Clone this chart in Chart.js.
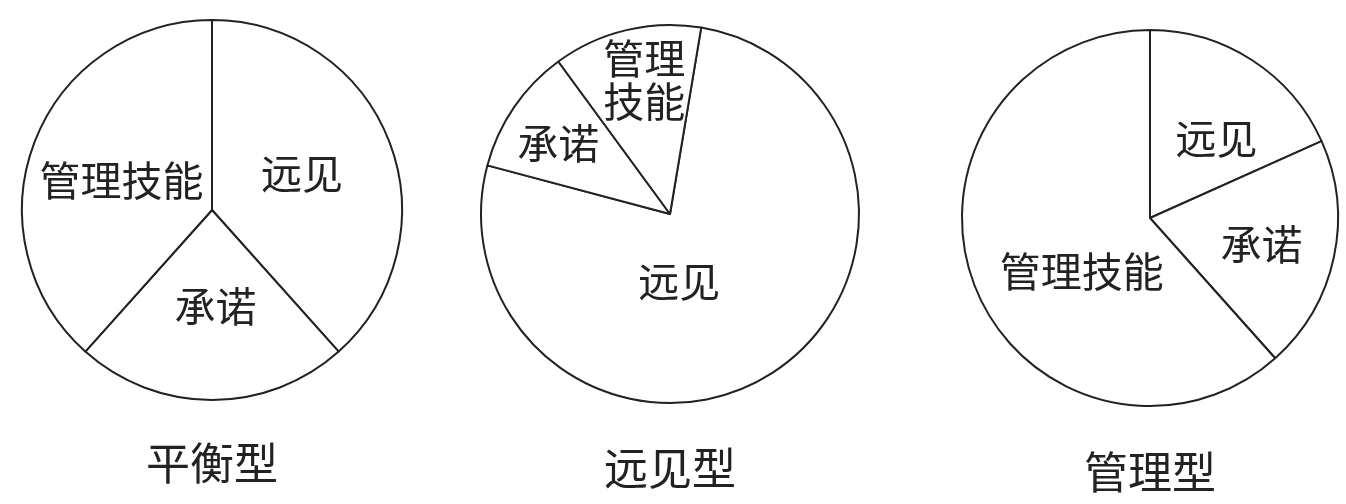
<!DOCTYPE html>
<html>
<head>
<meta charset="utf-8">
<title>领导类型</title>
<script src="https://cdn.jsdelivr.net/npm/chart.js@4.4.0/dist/chart.umd.min.js"></script>
<style>
  html, body { margin: 0; padding: 0; background: #fff; overflow: hidden; }
  body { width: 1346px; height: 504px; position: relative; }
  .pie { position: absolute; top: 0; width: 440px; height: 504px; }
</style>
</head>
<body>
<div class="pie" style="left:-8px"><canvas id="pieBalanced" width="440" height="504"></canvas></div>
<div class="pie" style="left:450px"><canvas id="pieVision" width="440" height="504"></canvas></div>
<div class="pie" style="left:930px"><canvas id="pieManage" width="440" height="504"></canvas></div>
<script>
// categories, clockwise from the first slice
const categories = ["远见", "承诺", "管理技能"];

// share of each category per type (percent)
const balancedValues = [38, 23, 38];
const visionValues = [76.5, 10.8, 12.7];
const manageValues = [18.3, 20.1, 61.6];

const chartTitles = ["平衡型", "远见型", "管理型"];

const INK = "#222";
const FONT = "'Noto Sans CJK SC', 'Noto Sans', sans-serif";
const TITLE_SIZE = 44;
const TITLE_LH = 1.2;

// draw the category name inside each slice
const sliceLabels = {
  id: "sliceLabels",
  afterDatasetsDraw(chart, args, opts) {
    const ctx = chart.ctx;
    const meta = chart.getDatasetMeta(0);
    ctx.save();
    ctx.font = opts.size + "px " + FONT;
    ctx.fillStyle = INK;
    ctx.textAlign = "center";
    ctx.textBaseline = "middle";
    meta.data.forEach((arc, i) => {
      const p = opts.place[i];
      const { x, y, startAngle, endAngle, outerRadius } =
        arc.getProps(["x", "y", "startAngle", "endAngle", "outerRadius"], true);
      const mid = (startAngle + endAngle) / 2 + (p.da * Math.PI) / 180;
      const lx = x + Math.cos(mid) * outerRadius * p.r;
      const ly = y + Math.sin(mid) * outerRadius * p.r;
      const text = chart.data.labels[i];
      const lines = p.wrap ? text.match(new RegExp(".{1," + p.wrap + "}", "g")) : [text];
      lines.forEach((ln, k) => {
        ctx.fillText(ln, lx, ly + (k - (lines.length - 1) / 2) * opts.lineHeight);
      });
    });
    ctx.restore();
  },
};

function makePie(id, values, title, o) {
  // chart area runs from 0 to 2*cy, the title sits below it
  const lineH = TITLE_SIZE * TITLE_LH;
  const titleTop = o.titleY - lineH / 2 - 2 * o.cy;
  const bottomPad = 504 - 2 * o.cy - titleTop - lineH;

  return new Chart(document.getElementById(id), {
    type: "pie",
    data: {
      labels: categories,
      datasets: [
        {
          data: values,
          backgroundColor: "#fff",
          borderColor: INK,
          borderWidth: 2,
          hoverOffset: 0,
        },
      ],
    },
    options: {
      responsive: false,
      animation: false,
      rotation: o.rotation,
      radius: o.radius,
      layout: { padding: { top: 0, bottom: bottomPad, left: 0, right: 0 } },
      events: [],
      plugins: {
        legend: { display: false },
        tooltip: { enabled: false },
        title: {
          display: true,
          text: title,
          position: "bottom",
          color: INK,
          font: { family: FONT, size: TITLE_SIZE, weight: "normal", lineHeight: TITLE_LH },
          padding: { top: titleTop, bottom: 0 },
        },
        sliceLabels: { size: 41, lineHeight: 43, place: o.place },
      },
    },
    plugins: [sliceLabels],
  });
}

makePie("pieBalanced", balancedValues, chartTitles[0], {
  cy: 210, radius: 190, rotation: 0, titleY: 463,
  place: [{ r: 0.51, da: -1 }, { r: 0.51, da: -2 }, { r: 0.5, da: -3 }],
});

makePie("pieVision", visionValues, chartTitles[1], {
  cy: 214, radius: 189, rotation: 9.5, titleY: 468,
  place: [{ r: 0.36, da: 25 }, { r: 0.7, da: -2 }, { r: 0.72, da: 2.4, wrap: 2 }],
});

makePie("pieManage", manageValues, chartTitles[2], {
  cy: 218, radius: 188, rotation: 0, titleY: 472,
  place: [{ r: 0.55, da: 7 }, { r: 0.61, da: 1.5 }, { r: 0.46, da: -17 }],
});
</script>
</body>
</html>
